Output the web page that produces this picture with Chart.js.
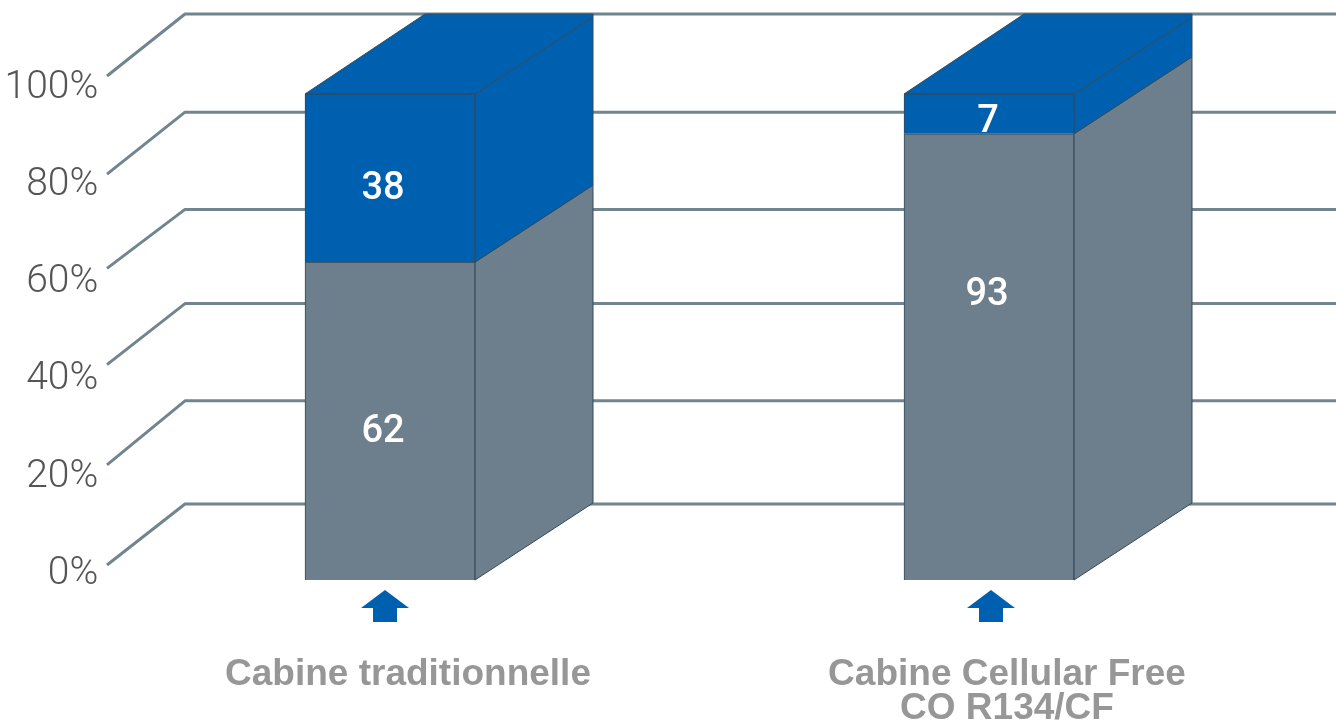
<!DOCTYPE html>
<html>
<head>
<meta charset="utf-8">
<title>Cabine</title>
<script src="https://cdn.jsdelivr.net/npm/chart.js@4/dist/chart.umd.min.js"></script>
<style>
html, body { margin: 0; padding: 0; background: #fff; overflow: hidden; }
#wrap { width: 1336px; height: 724px; }
</style>
</head>
<body>
<div id="wrap"><canvas id="chart"></canvas></div>
<script>
var categories = ['Cabine traditionnelle', ['Cabine Cellular Free', 'CO R134/CF']];
var tickValues = [0, 20, 40, 60, 80, 100];

// drawn heights, the artwork does not follow its printed numbers
var greyHeights = [65.4, 91.8];
var blueHeights = [34.6, 8.2];
// numbers printed on the bars
var greyLabels = ['62', '93'];
var blueLabels = ['38', '7'];

var GRID = '#71858f';
var GREY = '#6d7f8c';
var BLUE = '#0060b0';
var EDGE = '#34495a';

// how far each grid line sits above its tick on the two ends of the side wall
var wallFrontLift = [15, 18, 21, 20, 17, 18];
var wallBackLift = [76, 82, 82, 79, 79, 80];
// label nudges in px from the middle of each segment
var greyNudge = [[-7, 11], [-2, -61]];
var blueNudge = [[-7, 11], [-1, 9]];
var arrowShift = [-5, 2];

function poly(ctx, pts, fill) {
    ctx.beginPath();
    ctx.moveTo(pts[0][0], pts[0][1]);
    for (var i = 1; i < pts.length; i++) ctx.lineTo(pts[i][0], pts[i][1]);
    ctx.closePath();
    ctx.fillStyle = fill;
    ctx.fill();
    ctx.strokeStyle = EDGE;
    ctx.lineWidth = 1;
    ctx.stroke();
}

var box3d = {
    id: 'box3d',
    beforeDatasetsDraw: function (chart) {
        var ctx = chart.ctx, y = chart.scales.y;
        ctx.save();
        // side wall and back wall
        ctx.strokeStyle = GRID;
        ctx.lineWidth = 3;
        ctx.lineJoin = 'round';
        tickValues.forEach(function (v, i) {
            var p = y.getPixelForValue(v);
            ctx.beginPath();
            ctx.moveTo(107, p - wallFrontLift[i]);
            ctx.lineTo(185, p - wallBackLift[i]);
            ctx.lineTo(1336, p - wallBackLift[i]);
            ctx.stroke();
        });
        // sides and top of the boxes
        var dx = 118, dy = 77;
        var grey = chart.getDatasetMeta(0).data, blue = chart.getDatasetMeta(1).data;
        grey.forEach(function (bar, i) {
            var r = bar.x + bar.width / 2, l = bar.x - bar.width / 2;
            var base = y.getPixelForValue(0), mid = bar.y, top = blue[i].y;
            poly(ctx, [[r, base], [r + dx, base - dy], [r + dx, mid - dy], [r, mid]], GREY);
            poly(ctx, [[r, mid], [r + dx, mid - dy], [r + dx, top - dy], [r, top]], BLUE);
            poly(ctx, [[l, top], [l + dx + 2, top - 80], [r + dx, top - 80], [r + dx, top - dy], [r, top]], BLUE);
        });
        ctx.restore();
    },
    afterDatasetsDraw: function (chart) {
        var ctx = chart.ctx;
        var grey = chart.getDatasetMeta(0).data, blue = chart.getDatasetMeta(1).data;
        ctx.save();
        ctx.fillStyle = '#ffffff';
        ctx.textAlign = 'center';
        ctx.textBaseline = 'middle';
        ctx.font = '500 38px Roboto';
        grey.forEach(function (bar, i) {
            var midGrey = (bar.y + bar.base) / 2, midBlue = (blue[i].y + blue[i].base) / 2;
            ctx.fillText(greyLabels[i], bar.x + greyNudge[i][0], midGrey + greyNudge[i][1]);
            ctx.fillText(blueLabels[i], bar.x + blueNudge[i][0], midBlue + blueNudge[i][1]);
            // little arrow under the box
            var c = bar.x + arrowShift[i];
            ctx.beginPath();
            ctx.moveTo(c, 590);
            ctx.lineTo(c + 24, 608);
            ctx.lineTo(c + 12, 608);
            ctx.lineTo(c + 12, 622);
            ctx.lineTo(c - 12, 622);
            ctx.lineTo(c - 12, 608);
            ctx.lineTo(c - 24, 608);
            ctx.closePath();
            ctx.fillStyle = BLUE;
            ctx.fill();
            ctx.fillStyle = '#ffffff';
        });
        ctx.restore();
    }
};

var chart = new Chart(document.getElementById('chart').getContext('2d'), {
    type: 'bar',
    data: {
        labels: categories,
        datasets: [
            { label: 'Gris', data: greyHeights, backgroundColor: GREY, borderColor: EDGE, borderWidth: 1, barThickness: 170 },
            { label: 'Bleu', data: blueHeights, backgroundColor: BLUE, borderColor: EDGE, borderWidth: 1, barThickness: 170 }
        ]
    },
    options: {
        responsive: true,
        maintainAspectRatio: false,
        animation: false,
        layout: { padding: { top: 94, right: 47.5, left: 0, bottom: 0 } },
        plugins: { legend: { display: false }, title: { display: false }, tooltip: { enabled: false } },
        scales: {
            x: {
                stacked: true,
                grid: { display: false, drawTicks: false },
                border: { display: false },
                afterFit: function (s) { s.height = 144; },
                ticks: {
                    color: '#979797',
                    font: { family: '"Liberation Sans"', size: 37, weight: 'bold', lineHeight: 0.92 },
                    padding: 78,
                    labelOffset: 18,
                    maxRotation: 0,
                    autoSkip: false
                }
            },
            y: {
                stacked: true,
                min: 0,
                max: 100,
                grid: { display: false, drawTicks: false },
                border: { display: false },
                afterFit: function (s) { s.width = 90.5; },
                ticks: {
                    stepSize: 20,
                    color: '#555555',
                    font: { family: 'Roboto', size: 39, weight: '300' },
                    // mirror keeps the labels from being clipped at the axis edge
                    mirror: true,
                    crossAlign: 'far',
                    padding: -86,
                    labelOffset: -6,
                    callback: function (v) { return v + '%'; }
                }
            }
        }
    },
    plugins: [box3d]
});
</script>
</body>
</html>
